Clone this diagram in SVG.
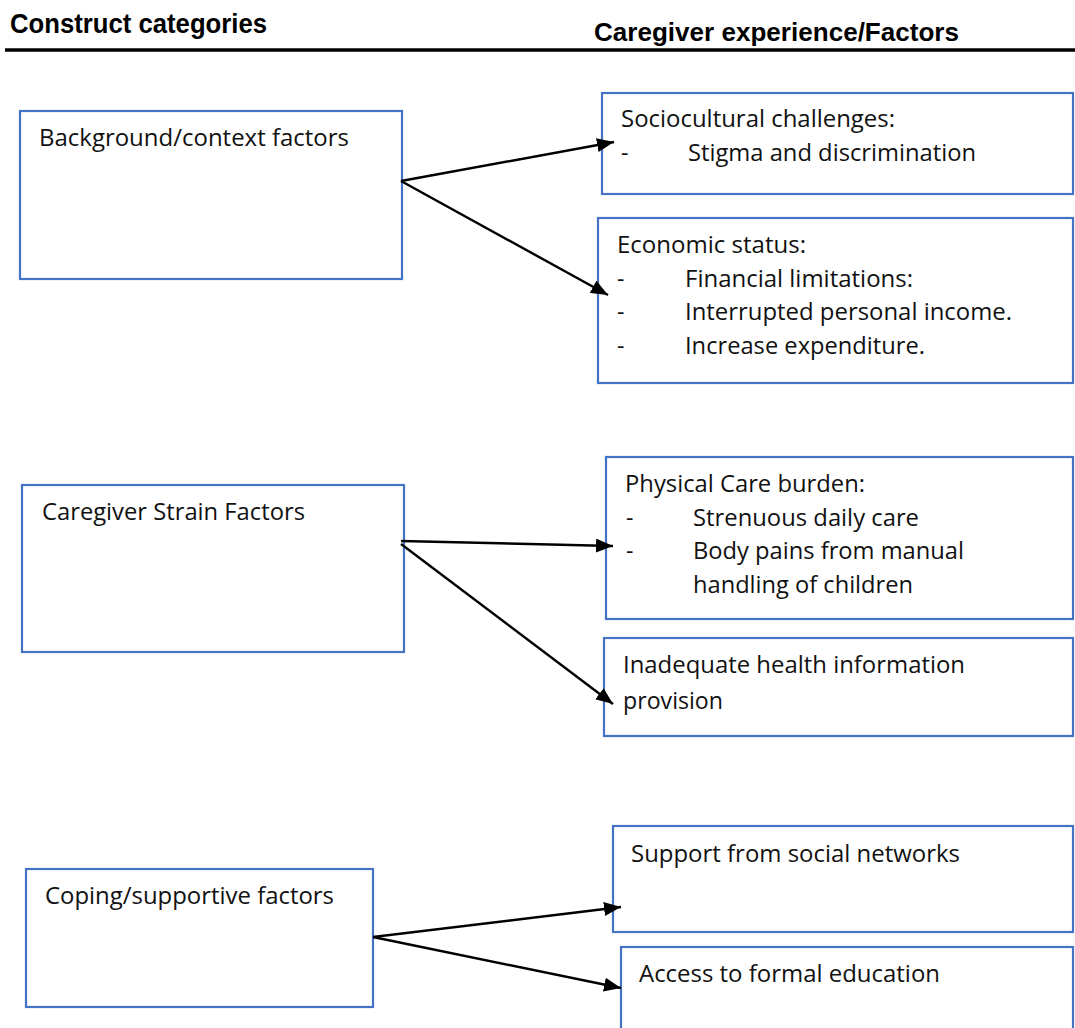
<svg xmlns="http://www.w3.org/2000/svg" width="1075" height="1028" viewBox="0 0 1075 1028">
<style>
  .box { fill: #ffffff; stroke: #4472C4; stroke-width: 2.2; }
  .t { font-family: "Open Sans", "Liberation Sans", sans-serif; font-size: 23px; fill: #111111; }
  .h { font-family: "Liberation Sans", "Open Sans", sans-serif; font-weight: bold; fill: #000000; }
  .conn { stroke: #000000; stroke-width: 2.4; fill: none; marker-end: url(#arr); }
</style>
<defs>
  <marker id="arr" markerUnits="userSpaceOnUse" markerWidth="18" markerHeight="14" refX="17" refY="7" orient="auto">
    <path d="M0,0 L17,7 L0,14 z" fill="#000000"/>
  </marker>
</defs>
<rect width="1075" height="1028" fill="#ffffff"/>

<g id="header">
  <text class="h" x="10" y="33" font-size="27" textLength="257" lengthAdjust="spacingAndGlyphs">Construct categories</text>
  <text class="h" x="594" y="41" font-size="25" textLength="365" lengthAdjust="spacingAndGlyphs">Caregiver experience/Factors</text>
  <line x1="5" y1="50" x2="1075" y2="50" stroke="#000000" stroke-width="3.5"/>
</g>

<g id="node-background">
  <rect class="box" x="20" y="111" width="382" height="168"/>
  <text class="t" x="39" y="146" textLength="310" lengthAdjust="spacingAndGlyphs">Background/context factors</text>
</g>

<g id="node-sociocultural">
  <rect class="box" x="602" y="93" width="471" height="101"/>
  <text class="t" x="621" y="127" textLength="274" lengthAdjust="spacingAndGlyphs">Sociocultural challenges:</text>
  <text class="t" x="621" y="161">-</text>
  <text class="t" x="688" y="161" textLength="288" lengthAdjust="spacingAndGlyphs">Stigma and discrimination</text>
</g>

<g id="node-economic">
  <rect class="box" x="598" y="218" width="475" height="165"/>
  <text class="t" x="617" y="253" textLength="189" lengthAdjust="spacingAndGlyphs">Economic status:</text>
  <text class="t" x="617" y="287">-</text>
  <text class="t" x="685" y="287" textLength="228" lengthAdjust="spacingAndGlyphs">Financial limitations:</text>
  <text class="t" x="617" y="320">-</text>
  <text class="t" x="685" y="320" textLength="327" lengthAdjust="spacingAndGlyphs">Interrupted personal income.</text>
  <text class="t" x="617" y="354">-</text>
  <text class="t" x="685" y="354" textLength="240" lengthAdjust="spacingAndGlyphs">Increase expenditure.</text>
</g>

<g id="node-strain">
  <rect class="box" x="22" y="485" width="382" height="167"/>
  <text class="t" x="42" y="520" textLength="263" lengthAdjust="spacingAndGlyphs">Caregiver Strain Factors</text>
</g>

<g id="node-physical">
  <rect class="box" x="606" y="457" width="467" height="162"/>
  <text class="t" x="625" y="492" textLength="240" lengthAdjust="spacingAndGlyphs">Physical Care burden:</text>
  <text class="t" x="626" y="526">-</text>
  <text class="t" x="693" y="526" textLength="226" lengthAdjust="spacingAndGlyphs">Strenuous daily care</text>
  <text class="t" x="626" y="559">-</text>
  <text class="t" x="693" y="559" textLength="271" lengthAdjust="spacingAndGlyphs">Body pains from manual</text>
  <text class="t" x="693" y="593" textLength="220" lengthAdjust="spacingAndGlyphs">handling of children</text>
</g>

<g id="node-information">
  <rect class="box" x="604" y="638" width="469" height="98"/>
  <text class="t" x="623" y="673" textLength="342" lengthAdjust="spacingAndGlyphs">Inadequate health information</text>
  <text class="t" x="623" y="709" textLength="100" lengthAdjust="spacingAndGlyphs">provision</text>
</g>

<g id="node-coping">
  <rect class="box" x="26" y="869" width="347" height="138"/>
  <text class="t" x="45" y="904" textLength="289" lengthAdjust="spacingAndGlyphs">Coping/supportive factors</text>
</g>

<g id="node-support">
  <rect class="box" x="613" y="826" width="460" height="106"/>
  <text class="t" x="631" y="862" textLength="329" lengthAdjust="spacingAndGlyphs">Support from social networks</text>
</g>

<g id="node-education">
  <rect class="box" x="621" y="947" width="452" height="100"/>
  <text class="t" x="639" y="982" textLength="301" lengthAdjust="spacingAndGlyphs">Access to formal education</text>
</g>

<g id="connectors">
  <line class="conn" x1="401" y1="181" x2="614" y2="142"/>
  <line class="conn" x1="401" y1="181" x2="608" y2="295"/>
  <line class="conn" x1="401" y1="541" x2="613" y2="546"/>
  <line class="conn" x1="401" y1="544" x2="613" y2="704"/>
  <line class="conn" x1="373" y1="937" x2="621" y2="907"/>
  <line class="conn" x1="373" y1="937" x2="621" y2="988"/>
</g>
</svg>
